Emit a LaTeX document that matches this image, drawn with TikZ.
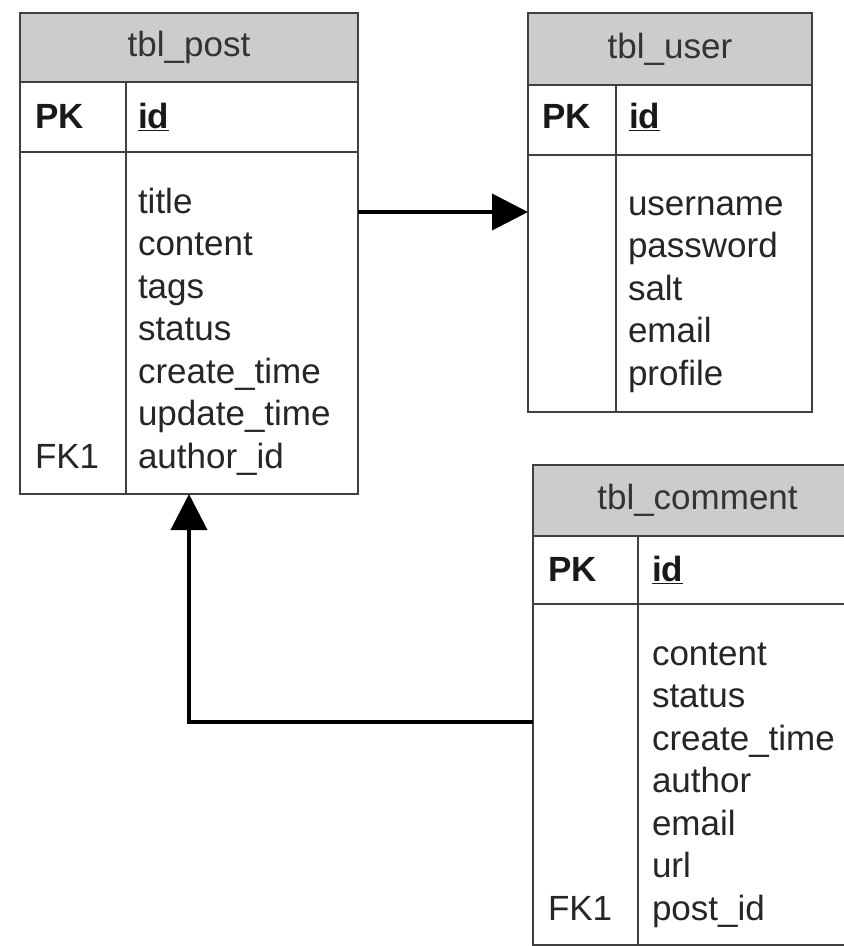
\documentclass[tikz,border=0pt]{standalone}
\usepackage{fontspec}
\setmainfont{Liberation Sans}
\usetikzlibrary{%
  positioning
 ,arrows.meta
 ,calc
}
\tikzstyle{er}=[x=1pt,y=-1pt,inner sep=0pt,outer sep=0pt,font=\fontsize{35}{42.5}\selectfont,text=black!85]
\tikzstyle{thead}=[draw=black!75,line width=2.5pt,fill=black!20,anchor=north west,text=black!80]
\tikzstyle{trow}=[draw=black!75,line width=2.5pt,fill=white]
\tikzstyle{tline}=[draw=black!75,line width=2.5pt]
\tikzstyle{tfield}=[anchor=base west]
\tikzstyle{tkey}=[anchor=base west,font=\fontsize{35}{42.5}\selectfont\bfseries,text=black!90]
\tikzstyle{fk}=[-{Triangle[length=36pt,width=36pt]},line width=4pt,black]

\begin{document}
\begin{tikzpicture}[er]
  \useasboundingbox (0,0) rectangle (844,946);
  \clip (0,0) rectangle (844,946);
% tbl_post
  \node[thead,minimum width=338pt,minimum height=69pt] (post_head) at (20,13) {tbl\_post};
  \node[trow,minimum width=338pt,minimum height=70pt,below=0pt of post_head] (post_key) {};
  \node[trow,minimum width=338pt,minimum height=342pt,below=0pt of post_key] (post_body) {};
  \draw[tline] ([xshift=106pt]post_key.north west) -- ([xshift=106pt]post_body.south west);
  \node[tkey] (post_pk) at (35,128) {PK};
  \node[tkey] (post_id) at (138,128) {\underline{id}};
  \foreach \f [count=\i] in {title,content,tags,status,create\_time,update\_time,author\_id}
    \node[tfield] (post_f\i) at (138,{213+42.5*(\i-1)}) {\f};
  \node[tfield] (post_fk) at (35,468) {FK1};
% tbl_user
  \node[thead,minimum width=284pt,minimum height=72pt] (user_head) at (528,13) {tbl\_user};
  \node[trow,minimum width=284pt,minimum height=70pt,below=0pt of user_head] (user_key) {};
  \node[trow,minimum width=284pt,minimum height=257pt,below=0pt of user_key] (user_body) {};
  \draw[tline] ([xshift=88pt]user_key.north west) -- ([xshift=88pt]user_body.south west);
  \node[tkey] (user_pk) at (542,128) {PK};
  \node[tkey] (user_id) at (629,128) {\underline{id}};
  \foreach \f [count=\i] in {username,password,salt,email,profile}
    \node[tfield] (user_f\i) at (628,{215+42.5*(\i-1)}) {\f};
% tbl_comment
  \node[thead,minimum width=329pt,minimum height=71pt] (comment_head) at (533,465) {tbl\_comment};
  \node[trow,minimum width=329pt,minimum height=68pt,below=0pt of comment_head] (comment_key) {};
  \node[trow,minimum width=329pt,minimum height=341pt,below=0pt of comment_key] (comment_body) {};
  \draw[tline] ([xshift=105pt]comment_key.north west) -- ([xshift=105pt]comment_body.south west);
  \node[tkey] (comment_pk) at (548,581) {PK};
  \node[tkey] (comment_id) at (652,581) {\underline{id}};
  \foreach \f [count=\i] in {content,status,create\_time,author,email,url,post\_id}
    \node[tfield] (comment_f\i) at (652,{665+42.5*(\i-1)}) {\f};
  \node[tfield] (comment_fk) at (548,920) {FK1};
% references
  \coordinate (post_out) at (358,212);
  \coordinate (comment_out) at (533,722);
  \draw[fk] (post_out) -- (post_out -| user_body.west);
  \draw[fk] (comment_out) -| (post_body.south);
\end{tikzpicture}
\end{document}
